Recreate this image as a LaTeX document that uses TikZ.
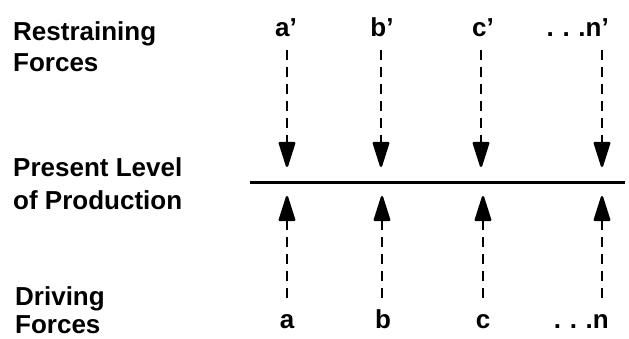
\documentclass[tikz,border=0pt]{standalone}
\usepackage{fontspec}
\setmainfont{Liberation Sans}
\usetikzlibrary{arrows.meta}

\begin{document}
\begin{tikzpicture}[x=1pt, y=-1pt, every node/.style={font=\fontsize{26}{32}\selectfont\bfseries, inner sep=0pt}]

\tikzset{force/.style={line width=2.4pt, dash pattern=on 10pt off 7pt, -{Triangle[length=28pt,width=17pt,round]}}}
\tikzset{down/.style={force, shorten >=16pt}}
\tikzset{up/.style={force, shorten >=13pt}}

\useasboundingbox (0,0) rectangle (629,339);

%%%%%%%%%%%%%%%%%%%%%%%%%%%%%%%%%%%%%%%%%%%%%%%%%%%%%%%%%%%%%%%%
% Left labels
%%%%%%%%%%%%%%%%%%%%%%%%%%%%%%%%%%%%%%%%%%%%%%%%%%%%%%%%%%%%%%%%
\node [anchor=base west] (restr1) at (13,41) {Restraining};
\node [anchor=base west] (restr2) at (13,72) {Forces};

\node [anchor=base west] (level1) at (13,177) {Present Level};
\node [anchor=base west] (level2) at (13,210) {of Production};

\node [anchor=base west] (drive1) at (15,305) {Driving};
\node [anchor=base west] (drive2) at (15,333) {Forces};

%%%%%%%%%%%%%%%%%%%%%%%%%%%%%%%%%%%%%%%%%%%%%%%%%%%%%%%%%%%%%%%%
% Level line
%%%%%%%%%%%%%%%%%%%%%%%%%%%%%%%%%%%%%%%%%%%%%%%%%%%%%%%%%%%%%%%%
\coordinate (lineL) at (250,183);
\coordinate (lineR) at (625,183);
\draw [line width=3pt] (lineL) to (lineR);

%%%%%%%%%%%%%%%%%%%%%%%%%%%%%%%%%%%%%%%%%%%%%%%%%%%%%%%%%%%%%%%%
% Restraining forces
%%%%%%%%%%%%%%%%%%%%%%%%%%%%%%%%%%%%%%%%%%%%%%%%%%%%%%%%%%%%%%%%
\node [anchor=base] (ap) at (286,37) {a’};
\node [anchor=base] (bp) at (382,37) {b’};
\node [anchor=base] (cp) at (483,37) {c’};
\node [anchor=base east] (np) at (609,37) {.\,\,.\,\,.n’};

\coordinate (topA) at (287,50);
\coordinate (topB) at (381,50);
\coordinate (topC) at (481,50);
\coordinate (topN) at (602,50);

\draw [down] (topA) to (topA |- lineL);
\draw [down] (topB) to (topB |- lineL);
\draw [down] (topC) to (topC |- lineL);
\draw [down] (topN) to (topN |- lineL);

%%%%%%%%%%%%%%%%%%%%%%%%%%%%%%%%%%%%%%%%%%%%%%%%%%%%%%%%%%%%%%%%
% Driving forces
%%%%%%%%%%%%%%%%%%%%%%%%%%%%%%%%%%%%%%%%%%%%%%%%%%%%%%%%%%%%%%%%
\node [anchor=base] (a) at (287,328) {a};
\node [anchor=base] (b) at (383,328) {b};
\node [anchor=base] (c) at (483,328) {c};
\node [anchor=base east] (n) at (609,328) {.\,\,.\,\,.n};

\coordinate (botA) at (287,298);
\coordinate (botB) at (382,298);
\coordinate (botC) at (483,298);
\coordinate (botN) at (602,298);

\draw [up] (botA) to (botA |- lineL);
\draw [up] (botB) to (botB |- lineL);
\draw [up] (botC) to (botC |- lineL);
\draw [up] (botN) to (botN |- lineL);

\end{tikzpicture}
\end{document}
